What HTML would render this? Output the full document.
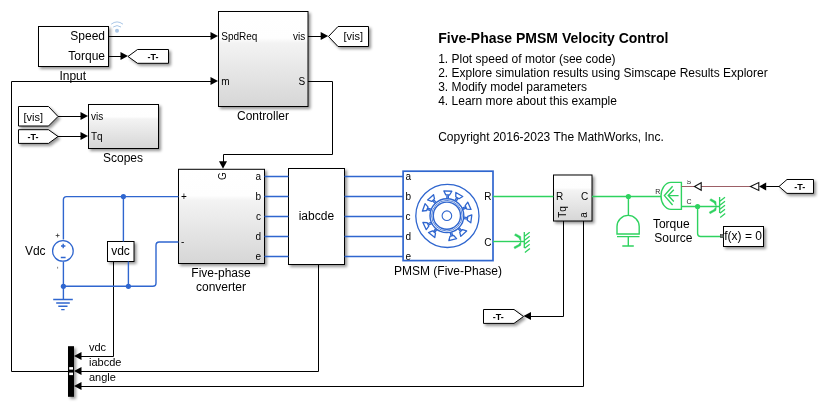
<!DOCTYPE html>
<html><head><meta charset="utf-8">
<style>
html,body{margin:0;padding:0;background:#fff;overflow:hidden}
svg{display:block;font-family:"Liberation Sans",sans-serif;will-change:transform}
</style></head><body>
<svg width="824" height="407" viewBox="0 0 824 407">
<defs>
<linearGradient id="g" x1="0" y1="0" x2="0" y2="1">
<stop offset="0" stop-color="#ffffff"/><stop offset="0.28" stop-color="#fefefe"/><stop offset="0.33" stop-color="#f3f3f3"/><stop offset="1" stop-color="#d6d6d6"/>
</linearGradient>
<filter id="sh" x="-20%" y="-20%" width="140%" height="140%">
<feGaussianBlur in="SourceAlpha" stdDeviation="1.7"/>
<feOffset dx="2.2" dy="2.2" result="b"/>
<feComponentTransfer><feFuncA type="linear" slope="0.42"/></feComponentTransfer>
<feMerge><feMergeNode/><feMergeNode in="SourceGraphic"/></feMerge>
</filter>
<g id="mref">
<path d="M0 -9.4V6.6M0.3 -5.3L5.4 -9.3M0.3 -1.3L5.4 -5.3M0.3 2.7L5.4 -1.3M0.3 6.7L5.4 2.7M0.6 10.9L5.6 6.9" fill="none" stroke="#2ed25f" stroke-width="1.3"/>
<path d="M-9.9 -6.2L-8.7 -7.8L-3.6 -5L-3.3 -0.6L-4.6 -1.8L-5.4 -3.6Z M-10.4 5.6L-9.5 7.3L-3.6 4L-3.3 0.6L-4.6 1.6L-5.6 3Z" fill="#2ed25f" stroke="#2ed25f" stroke-width="0.4" stroke-linejoin="round"/>
</g>
<clipPath id="sclip"><rect x="680" y="180.4" width="20" height="10"/></clipPath>
</defs>

<!-- ===== blocks ===== -->
<g filter="url(#sh)" stroke="#000" stroke-width="1">
<rect x="38.5" y="26.5" width="70" height="40" fill="#fff"/>
<rect x="218.5" y="11.5" width="89.5" height="95" fill="url(#g)"/>
<rect x="88.5" y="104.5" width="70" height="44" fill="url(#g)"/>
<rect x="178.5" y="169.3" width="86" height="94.2" fill="url(#g)"/>
<rect x="288.5" y="168.5" width="56" height="96" fill="#fff"/>
<rect x="107.5" y="241.5" width="26.5" height="20" fill="#fff"/>
<rect x="553.5" y="175" width="38.5" height="46" fill="url(#g)"/>
<rect x="723.5" y="226.5" width="40" height="20" fill="#fff"/>
<path d="M128 56.5L137.5 49.5H168.5V63.3H137.5Z" fill="#fff"/>
<path d="M328.5 36.5L338 26.5H368.5V46.5H338Z" fill="#fff"/>
<path d="M18.5 106.5H48.5L58 116.5L48.5 126H18.5Z" fill="#fff"/>
<path d="M18.5 129.7H48.5L58 136.5L48.5 143.4H18.5Z" fill="#fff"/>
<path d="M483.5 309.5H514L523.5 316.5L514 323.4H483.5Z" fill="#fff"/>
<path d="M779 186.5L787 179.5H813.5V193.4H787Z" fill="#fff"/>
<rect x="68" y="346.2" width="6" height="50.6" fill="#000" stroke="none"/>
</g>
<!-- ===== black signal lines ===== -->
<g fill="none" stroke="#000" stroke-width="1">
<path d="M108 36.5H212"/>
<path d="M108 56.5H121"/>
<path d="M11.5 371.5V81.5H212"/>
<path d="M11.5 371.5H68"/>
<path d="M308 81.5H332.5V154.5H223.5V163"/>
<path d="M308 36.5H322"/>
<path d="M58 116.5H82"/>
<path d="M58 136.5H82"/>
<path d="M113.5 261V356.5H81"/>
<path d="M318.5 264V371.5H81"/>
<path d="M583.5 221V386.5H81"/>
<path d="M563.5 221V316.5H529"/>
</g>
<!-- arrowheads -->
<g fill="#000">
<path d="M218 36L210.5 32V40Z"/>
<path d="M218 81L210.5 77V85Z"/>
<path d="M128 56L120.5 52V60Z"/>
<path d="M328.2 36L320.7 32V40Z"/>
<path d="M88 116L80.5 112V120Z"/>
<path d="M88 136L80.5 132V140Z"/>
<path d="M223 168.8L219 161.3H227Z"/>
<path d="M74 356L81.5 352V360Z"/>
<path d="M74 371L81.5 367V375Z"/>
<path d="M74 386L81.5 382V390Z"/>
<path d="M523.5 316L531 312V320Z"/>
</g>
<!-- bus crossing marks -->
<g fill="#fff"><rect x="69.2" y="367.1" width="3.8" height="2.5"/><rect x="69.2" y="372.6" width="3.8" height="2.5"/></g>


<!-- ===== electrical (blue) ===== -->
<g fill="none" stroke="#2f66cf" stroke-width="1.4">
<path d="M178.5 196.6H66.6Q63.4 196.6 63.4 199.8V239.6"/>
<path d="M63.4 261.6V286.3"/>
<path d="M63.4 286.3H152.8Q156 286.3 156 283.1V245.2Q156 242 159.2 242H178.5"/>
<path d="M123.4 196.6V241.5"/>
<path d="M128.4 261.5V286.3"/>
<path d="M63.4 286.3V299.5"/>
<path d="M53.2 299.5H72.8M56.2 303H69.8M58.3 306.3H67.5M61.2 309.6H64.6"/>
<circle cx="62.9" cy="250.9" r="10.3" stroke-width="1.3"/>
<path d="M61 246H65.4M63.2 243.8V248.2M60.8 257.5H65.6"/>
<path d="M264.5 176.5H288.5M264.5 196.5H288.5M264.5 216.5H288.5M264.5 236.5H288.5M264.5 256.5H288.5"/>
<path d="M344.5 176.5H403M344.5 196.5H403M344.5 216.5H403M344.5 236.5H403M344.5 256.5H403"/>
<rect x="403.1" y="171.2" width="89.9" height="89.4" stroke-width="1.7"/>
<circle cx="447.4" cy="215.9" r="31.6" stroke-width="1.3"/>
<circle cx="446.9" cy="215.7" r="4.8" stroke-width="1.1"/>
<circle cx="446.9" cy="215.7" r="13.6" stroke-width="1.4"/>
<circle cx="446.9" cy="215.7" r="15.3" stroke-width="0.8"/>
<circle cx="446.9" cy="215.7" r="16.9" stroke-width="1.4"/>
<path d="M448.31 198.54L448.45 194.94M446.81 198.48L446.95 194.89M449.60 194.99L451.84 191.27L443.85 190.96L445.80 194.84ZM456.23 201.23L458.04 198.12M454.93 200.47L456.75 197.36M459.03 198.70L462.76 196.48L455.86 192.44L455.75 196.78ZM462.95 209.47L466.25 208.03M462.35 208.10L465.64 206.65M466.71 209.08L471.03 209.47L467.82 202.15L465.18 205.60ZM463.87 218.60L467.44 219.05M464.06 217.11L467.63 217.56M467.30 220.19L470.80 222.75L471.81 214.81L467.77 216.42ZM458.10 228.77L460.56 231.40M459.20 227.75L461.66 230.37M459.72 232.19L460.79 236.40L466.63 230.93L462.50 229.59ZM450.24 232.59L451.10 236.09M451.70 232.23L452.55 235.73M449.98 236.36L448.84 240.55L456.61 238.65L453.67 235.46ZM435.65 228.73L433.42 231.56M436.83 229.66L434.60 232.49M432.52 230.85L428.51 232.53L434.79 237.48L435.50 233.20ZM430.98 222.26L427.72 223.78M431.61 223.62L428.35 225.14M427.23 222.73L422.90 222.43L426.27 229.69L428.83 226.18ZM430.95 209.22L427.56 208.02M430.45 210.64L427.05 209.43M427.94 206.93L425.07 203.68L422.38 211.22L426.67 210.51ZM436.04 202.34L433.65 199.65M434.92 203.34L432.53 200.64M434.51 198.88L433.56 194.65L427.58 199.96L431.67 201.41Z" stroke-width="1.3" stroke-linejoin="round"/>
</g>
<g fill="#2f66cf">
<circle cx="123.4" cy="196.6" r="2.6"/>
<circle cx="63.4" cy="286.3" r="2.6"/>
<circle cx="128.4" cy="286.3" r="2.6"/>
</g>
<g fill="#333" font-size="7">
<path d="M55.7 235.5H59.5M57.6 233.6V237.4" stroke="#333" stroke-width="0.8"/>
<path d="M57.6 266.8V268.6" stroke="#666" stroke-width="0.8"/>
</g>

<!-- ===== mechanical (green) ===== -->
<g fill="none" stroke="#2ed25f" stroke-width="1.4">
<path d="M493 196.5H553.4"/>
<path d="M493 241.5H524.3"/>
<use href="#mref" transform="translate(524.3,241.5)"/>
<path d="M592 196.5H661.3"/>
<path d="M628.4 196.5V215"/>
<path d="M617 234V226.5A11.1 11.1 0 0 1 639.2 226.5V234Z"/>
<path d="M617 236.6H639.5M628.3 236.6V246M622.3 246H633.8"/>
<path d="M681.4 182.4H671A10 13.5 0 0 0 671 209.4H681.4Z"/>
<path d="M672.6 186.3L664.4 195.6L672.6 205M673.8 189.7L668.2 195.6L673.8 201.5M668.2 195.6H678.6"/>
<path d="M681.4 206.5H719.6"/>
<path d="M697.6 206.5V233.5Q697.6 236.5 700.6 236.5H723.4"/>
<use href="#mref" transform="translate(719.6,206.5)"/>
</g>
<g fill="#2ed25f">
<circle cx="628.4" cy="196.5" r="2.6"/>
<circle cx="697.6" cy="206.5" r="2.6"/>
</g>
<path d="M681.4 186.5H694.2" stroke="#9c5f66" stroke-width="1"/>
<path d="M701 186.5H750" stroke="#9c5f66" stroke-width="1"/>
<path d="M694.5 186.5L701.2 182.8V190.2Z" fill="#fff" stroke="#111" stroke-width="1.1"/>
<path d="M750.5 186.5L758.8 182.6V190.4Z" fill="#fff" stroke="#111" stroke-width="1.1"/>
<path d="M759 186.5L766.2 182.4V190.6Z" fill="#000"/>
<path d="M766.2 186.5H779" stroke="#000" stroke-width="1"/>
<rect x="720.4" y="234.6" width="2.8" height="3" fill="#777" stroke="#333" stroke-width="0.6"/>
<g font-size="7" fill="#222">
<text x="655.2" y="194">R</text>
<text x="686.5" y="184" clip-path="url(#sclip)">S</text>
<text x="686.5" y="204">C</text>
</g>
<!-- wifi -->
<g fill="none" stroke="#a9c6e6" stroke-width="1">
<path d="M111.2 24.2Q117 19.6 123 24.2M113.2 27Q117 24.2 121 27"/>
</g>
<circle cx="117" cy="30.8" r="2" fill="#a9c6e6"/>

<!-- ===== text ===== -->
<g font-size="12" fill="#000">
<text x="105" y="39.6" text-anchor="end">Speed</text>
<text x="105" y="59.6" text-anchor="end">Torque</text>
<text x="72.8" y="79.8" text-anchor="middle">Input</text>
<g font-size="10">
<text x="221.3" y="39.6">SpdReq</text>
<text x="221.3" y="84.8">m</text>
<text x="305.2" y="39.6" text-anchor="end">vis</text>
<text x="305.2" y="84.8" text-anchor="end">S</text>
<text x="91" y="119.6">vis</text>
<text x="91" y="140">Tq</text>
</g>
<text x="263" y="120" text-anchor="middle">Controller</text>
<text x="123" y="161.5" text-anchor="middle">Scopes</text>
<text x="353.3" y="40" font-size="11" text-anchor="middle">[vis]</text>
<text x="33.3" y="120.6" font-size="11" text-anchor="middle">[vis]</text>
<g font-size="9" font-weight="bold" text-anchor="middle">
<text x="153" y="60">-T-</text>
<text x="33" y="139.7">-T-</text>
<text x="498.2" y="319.9">-T-</text>
<text x="799.8" y="189.9">-T-</text>
</g>
<g font-size="10" text-anchor="end">
<text x="261.1" y="180">a</text><text x="261.1" y="200">b</text><text x="261.1" y="220">c</text><text x="261.1" y="240">d</text><text x="261.1" y="260">e</text>
</g>
<text x="181" y="200" font-size="10">+</text>
<text x="181" y="245" font-size="10">-</text>
<text x="316.4" y="220" text-anchor="middle">iabcde</text>
<text x="221" y="276.5" text-anchor="middle">Five-phase</text>
<text x="221" y="291" text-anchor="middle">converter</text>
<text x="120.5" y="254.5" text-anchor="middle">vdc</text>
<text x="45.6" y="255" text-anchor="end">Vdc</text>
<g font-size="10">
<text x="405.6" y="180.2">a</text><text x="405.6" y="200.2">b</text><text x="405.6" y="220.2">c</text><text x="405.6" y="240.2">d</text><text x="405.6" y="260.2">e</text>
</g>
<g font-size="10">
<text x="491.5" y="200" text-anchor="end">R</text>
<text x="491.5" y="246" text-anchor="end">C</text>
<text x="556" y="200">R</text>
<text x="588.3" y="200" text-anchor="end">C</text>
</g>
<text x="448" y="274.5" text-anchor="middle">PMSM (Five-Phase)</text>
<text x="671.3" y="227.5" text-anchor="middle">Torque</text>
<text x="673.3" y="241.6" text-anchor="middle">Source</text>
<text x="743.1" y="240" text-anchor="middle">f(x) = 0</text>
<g font-size="11">
<text x="89" y="350.8">vdc</text>
<text x="89" y="365.6">iabcde</text>
<text x="89" y="380.6">angle</text>
</g>
<text x="438.2" y="43" font-size="14" font-weight="bold">Five-Phase PMSM Velocity Control</text>
<text x="438.2" y="63">1. Plot speed of motor (see code)</text>
<text x="438.2" y="77">2. Explore simulation results using Simscape Results Explorer</text>
<text x="438.2" y="91">3. Modify model parameters</text>
<text x="438.2" y="105">4. Learn more about this example</text>
<text x="438.2" y="141">Copyright 2016-2023 The MathWorks, Inc.</text>
</g>
<!-- rotated labels -->
<text transform="translate(226,176) rotate(-90)" font-size="10" text-anchor="middle">G</text>
<text transform="translate(565.8,212) rotate(-90)" font-size="10" text-anchor="middle">Tq</text>
<text transform="translate(586.6,215) rotate(-90)" font-size="10" text-anchor="middle">a</text>
</svg>
</body></html>
